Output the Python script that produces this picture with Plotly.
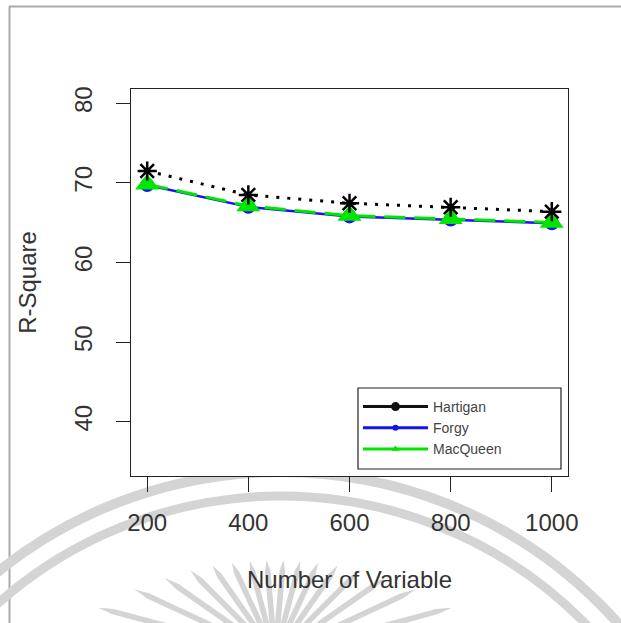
import math
import plotly.graph_objects as go

# ---------------- data ----------------
variables = [200, 400, 600, 800, 1000]
hartigan = [71.5, 68.5, 67.45, 66.95, 66.4]
forgy = [69.75, 67.0, 65.8, 65.4, 64.95]
macqueen = [69.85, 67.1, 65.9, 65.5, 65.05]
x_ticks = [200, 400, 600, 800, 1000]
y_ticks = [40, 50, 60, 70, 80]
series_names = ["Hartigan", "Forgy", "MacQueen"]

# ---------------- geometry helpers ----------------
W, H = 621, 623
L, R, T, B = 131, 53, 89, 147
PW = W - L - R
PH = H - T - B


def px(x):
    return (x - L) / PW


def py(y):
    return (H - B - y) / PH


FONT = "Arial, 'Liberation Sans', sans-serif"
BLACK = "#000000"
BLUE = "#1414ee"
GREEN = "#00e600"
WM = "#d4d4d4"

shapes = []
# outer page border (grey)
shapes.append(dict(type="line", xref="paper", yref="paper", x0=px(9), x1=px(621), y0=py(6.5), y1=py(6.5),
                   line=dict(color="#aaaaaa", width=2), layer="below"))
shapes.append(dict(type="line", xref="paper", yref="paper", x0=px(9.5), x1=px(9.5), y0=py(6), y1=py(623),
                   line=dict(color="#aaaaaa", width=2), layer="below"))

# watermark rings
for rad, wd in [(451, 10), (427, 9)]:
    shapes.append(dict(type="circle", xref="paper", yref="paper",
                       x0=px(281 - rad), x1=px(281 + rad), y0=py(923 + rad), y1=py(923 - rad),
                       line=dict(color=WM, width=wd), fillcolor="rgba(0,0,0,0)", layer="below"))

# watermark rays (long, slightly tapered strokes)
cx, cy = 275, 655
ox, oy, rt = 275, 912, 352
for a in range(-75, 81, 10):
    th = math.radians(a)
    dx, dy = math.sin(th), -math.cos(th)
    b = 2 * ((cx - ox) * dx + (cy - oy) * dy)
    c = (cx - ox) ** 2 + (cy - oy) ** 2 - rt ** 2
    t = (-b + math.sqrt(b * b - 4 * c)) / 2
    t0 = max(t - 130, 5)
    ln = t - t0
    ta = t - 0.12 * ln
    tb = t - 0.80 * ln
    nx, ny = -dy, dx
    w = 2.8
    pts = [
        (cx + t0 * dx, cy + t0 * dy),
        (cx + tb * dx + nx * w, cy + tb * dy + ny * w),
        (cx + ta * dx + nx * w, cy + ta * dy + ny * w),
        (cx + t * dx, cy + t * dy),
        (cx + ta * dx - nx * w, cy + ta * dy - ny * w),
        (cx + tb * dx - nx * w, cy + tb * dy - ny * w),
    ]
    path = "M " + " L ".join("{} {}".format(px(p[0]), py(p[1])) for p in pts) + " Z"
    shapes.append(dict(type="path", xref="paper", yref="paper", path=path,
                       fillcolor=WM, line=dict(width=0), layer="below"))

# white plotting region (covers watermark like the original image)
shapes.append(dict(type="rect", xref="paper", yref="paper", x0=0, x1=1, y0=0, y1=1,
                   fillcolor="white", line=dict(width=0), layer="below"))
# legend box
shapes.append(dict(type="rect", xref="paper", yref="paper", x0=px(358), x1=px(561), y0=py(469), y1=py(388),
                   fillcolor="white", line=dict(color="#222222", width=1.2), layer="below"))

fig = go.Figure()

# data traces
fig.add_trace(go.Scatter(
    x=variables, y=forgy, mode="lines+markers", name=series_names[1], legendgroup="forgy", showlegend=False,
    line=dict(color=BLUE, width=2.5), marker=dict(symbol="circle", size=14, color=BLUE)))
fig.add_trace(go.Scatter(
    x=variables, y=macqueen, mode="lines+markers", name=series_names[2], legendgroup="macqueen", showlegend=False,
    line=dict(color=GREEN, width=3, dash="21px,9px"), marker=dict(symbol="triangle-up", size=21, color=GREEN)))
fig.add_trace(go.Scatter(
    x=variables, y=hartigan, mode="lines+markers", name=series_names[0], legendgroup="hartigan", showlegend=False,
    line=dict(color=BLACK, width=3, dash="3px,8px"),
    marker=dict(symbol="asterisk-open", size=16, color=BLACK, line=dict(color=BLACK, width=2.5))))

# legend entries (styled like the original legend)
fig.add_trace(go.Scatter(x=[None], y=[None], mode="lines+markers", name=series_names[0], legendgroup="hartigan",
                         legendrank=1, line=dict(color="#111111", width=3),
                         marker=dict(symbol="circle", size=9, color="#111111")))
fig.add_trace(go.Scatter(x=[None], y=[None], mode="lines+markers", name=series_names[1], legendgroup="forgy",
                         legendrank=2, line=dict(color=BLUE, width=3),
                         marker=dict(symbol="circle", size=6, color=BLUE)))
fig.add_trace(go.Scatter(x=[None], y=[None], mode="lines+markers", name=series_names[2], legendgroup="macqueen",
                         legendrank=3, line=dict(color=GREEN, width=3),
                         marker=dict(symbol="triangle-up", size=7, color=GREEN)))

fig.update_layout(
    width=W, height=H,
    margin=dict(l=L, r=R, t=T, b=B, pad=0),
    paper_bgcolor="white", plot_bgcolor="white",
    font=dict(family=FONT, color="#333333"),
    shapes=shapes,
    showlegend=True,
    legend=dict(x=px(358), y=py(391), xanchor="left", yanchor="top",
                bgcolor="rgba(0,0,0,0)", borderwidth=0, itemwidth=65, tracegroupgap=0,
                font=dict(family=FONT, size=14, color="#444444")),
    xaxis=dict(range=[168, 1032], tickmode="array", tickvals=x_ticks, ticktext=[str(v) for v in x_ticks],
               ticks="outside", ticklen=15, tickwidth=1, tickcolor="#222222",
               showline=True, mirror=True, linecolor="#222222", linewidth=1.3,
               showgrid=False, zeroline=False, ticklabelstandoff=10,
               tickfont=dict(family=FONT, size=24, color="#333333"),
               title=dict(text="Number of Variable", font=dict(family=FONT, size=24, color="#333333"), standoff=36)),
    yaxis=dict(range=[33.2, 81.8], tickmode="array", tickvals=y_ticks, ticktext=[str(v) for v in y_ticks],
               ticks="outside", ticklen=14, tickwidth=1, tickcolor="#222222", tickangle=-90,
               showline=True, mirror=True, linecolor="#222222", linewidth=1.3,
               showgrid=False, zeroline=False, ticklabelstandoff=14,
               tickfont=dict(family=FONT, size=24, color="#333333"),
               title=dict(text="R-Square", font=dict(family=FONT, size=24, color="#333333"), standoff=26)),
)

fig.write_html("out.html")
